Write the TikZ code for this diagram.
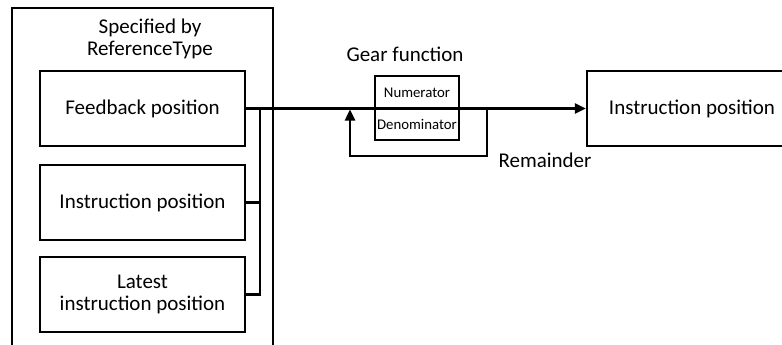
\documentclass[tikz,border=0pt]{standalone}
\usepackage{fontspec}
\setmainfont{Carlito}
\usetikzlibrary{arrows.meta}
\tikzset{
  x=1pt, y=-1pt,
  conn/.style={line width=2.4pt, line cap=butt},
  box/.style={draw, line width=2.4pt, minimum width=205pt, minimum height=75pt, inner sep=0pt,
    font=\fontsize{21}{22}\selectfont, align=center},
  gear/.style={draw, line width=2.2pt, minimum width=84pt, inner sep=0pt,
    font=\fontsize{14.8}{16}\selectfont},
  lbl/.style={font=\fontsize{21}{22}\selectfont, align=center, inner sep=0pt},
  arrowtip/.style={-{Triangle[length=11pt,width=10pt]}}
}
\begin{document}
\begin{tikzpicture}
\useasboundingbox (0,0) rectangle (782,345);
\clip (0,0) rectangle (782,345);
\fill[white] (0,0) rectangle (782,345);
% outer group
\draw[conn] (12,350) -- (12,8) -- (273,8) -- (273,350);
\node[lbl] (title) at (150,39) {Specified by\\ReferenceType};
\node[box] (fb) at (142.5,108.5) {Feedback position};
\node[box] (ip) at (142.5,202.5) {Instruction position};
\node[box] (lp) at (142.5,294.5) {Latest\\instruction position};
% gear
\node[gear, minimum height=33pt] (num) at (417,92.5) {Numerator};
\node[gear, minimum height=31pt] (den) at (417,124.5) {Denominator};
\node[lbl] (gl) at (405,54) {Gear function};
% output
\node[draw, line width=2.4pt, minimum width=210pt, minimum height=75pt, inner sep=0pt,
  font=\fontsize{21}{22}\selectfont] (out) at (692,108.5) {Instruction position};
\node[lbl] (rl) at (545,160) {Remainder};
% bus
\coordinate (bus) at (260,108.5);
\coordinate (b2) at (260,202.5);
\coordinate (b3) at (260,294.5);
\draw[conn] (ip.east) -- (b2);
\draw[conn] (lp.east) -- (b3) -- (bus);
\draw[conn, arrowtip] (fb.east) -- (out.west);
% remainder loop
\coordinate (r1) at (487,108.5);
\coordinate (r2) at (487,156);
\coordinate (r3) at (350,156);
\coordinate (r4) at (350,109.5);
\draw[conn, arrowtip] (r1) -- (r2) -- (r3) -- (r4);
\end{tikzpicture}
\end{document}
